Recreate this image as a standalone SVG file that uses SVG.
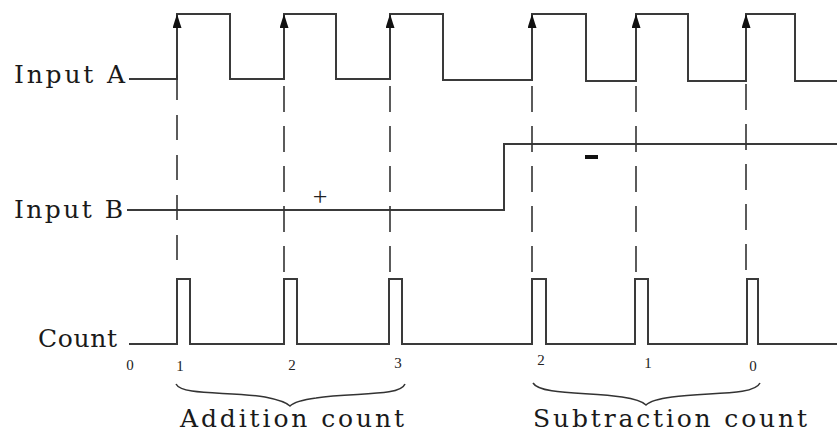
<svg xmlns="http://www.w3.org/2000/svg" width="837" height="435" viewBox="0 0 837 435">
<style>
.wave{fill:none;stroke:#3a3a3a;stroke-width:2;stroke-linejoin:miter}
.edge{fill:none;stroke:#3a3a3a;stroke-width:2}
.dash{fill:none;stroke:#333;stroke-width:1.6;stroke-dasharray:26 14}
.brace{fill:none;stroke:#333;stroke-width:1.5}
.lbl{font-family:"DejaVu Serif","Liberation Serif",serif;font-size:25px;fill:#1a1a1a}
.num{font-family:"Liberation Serif",serif;font-size:15px;fill:#222;text-anchor:middle}
.sign{font-family:"Liberation Serif",serif;font-size:26px;fill:#222;text-anchor:middle}
</style>
<defs>
<marker id="arr" viewBox="0 0 14 9" refX="14" refY="4.5" markerWidth="14" markerHeight="9" markerUnits="userSpaceOnUse" orient="auto">
<path d="M0,0 L14,4.5 L0,9 Z" fill="#111"/>
</marker>
</defs>
<g id="labels">
<text class="lbl" x="14" y="83" textLength="111" lengthAdjust="spacing">Input A</text>
<text class="lbl" x="14" y="218" textLength="109" lengthAdjust="spacing">Input B</text>
<text class="lbl" x="38" y="347" textLength="79" lengthAdjust="spacing">Count</text>
<text class="lbl" x="180" y="427" textLength="224" lengthAdjust="spacing">Addition count</text>
<text class="lbl" x="533" y="427" textLength="274" lengthAdjust="spacing">Subtraction count</text>
</g>
<g id="inputA">
<path class="wave" d="M129,79 H177 V14 H230 V79 H284 V14 H336 V79 H390 V14 H443 V80 H532 V14 H586 V81 H636 V14 H688 V81 H746 V14 H795 V81 H837"/>
</g>
<g id="inputB">
<path class="wave" d="M127,210 H504 V144 H837"/>
<text class="sign" x="320" y="205">+</text>
<rect x="585" y="155" width="13" height="4" fill="#111"/>
</g>
<g id="count">
<path class="wave" d="M129,344 H177 V279 H190 V344 H284 V279 H297 V344 H389 V279 H402 V344 H532 V279 H546 V344 H635 V279 H648 V344 H747 V279 H758 V344 H837"/>
<text class="num" x="130" y="370">0</text>
<text class="num" x="180" y="371">1</text>
<text class="num" x="292" y="370">2</text>
<text class="num" x="398" y="368">3</text>
<text class="num" x="541" y="365">2</text>
<text class="num" x="648" y="368">1</text>
<text class="num" x="753" y="371">0</text>
</g>
<g id="connectors">
<path class="edge" d="M177,40 V14" marker-end="url(#arr)"/>
<path class="edge" d="M284,40 V14" marker-end="url(#arr)"/>
<path class="edge" d="M390,40 V14" marker-end="url(#arr)"/>
<path class="edge" d="M532,40 V14" marker-end="url(#arr)"/>
<path class="edge" d="M636,40 V14" marker-end="url(#arr)"/>
<path class="edge" d="M746,40 V14" marker-end="url(#arr)"/>
<line class="dash" x1="177" y1="75" x2="177" y2="262" style="stroke-dasharray:25 15"/>
<line class="dash" x1="284" y1="86" x2="284" y2="272"/>
<line class="dash" x1="390" y1="86" x2="390" y2="272"/>
<line class="dash" x1="532" y1="86" x2="532" y2="272"/>
<line class="dash" x1="636" y1="86" x2="636" y2="272"/>
<line class="dash" x1="746" y1="84" x2="746" y2="270"/>
<path class="brace" d="M176,384 C182,396 230,391 265,397 C280,400 287,403 290,406 C294,402 301,400 316,398 C352,392 400,397 405,384"/>
<path class="brace" d="M533,383 C540,395 590,392 622,397 C636,399 643,402 646,405 C650,401 657,399 672,397 C706,392 754,396 760,383"/>
</g>
</svg>
